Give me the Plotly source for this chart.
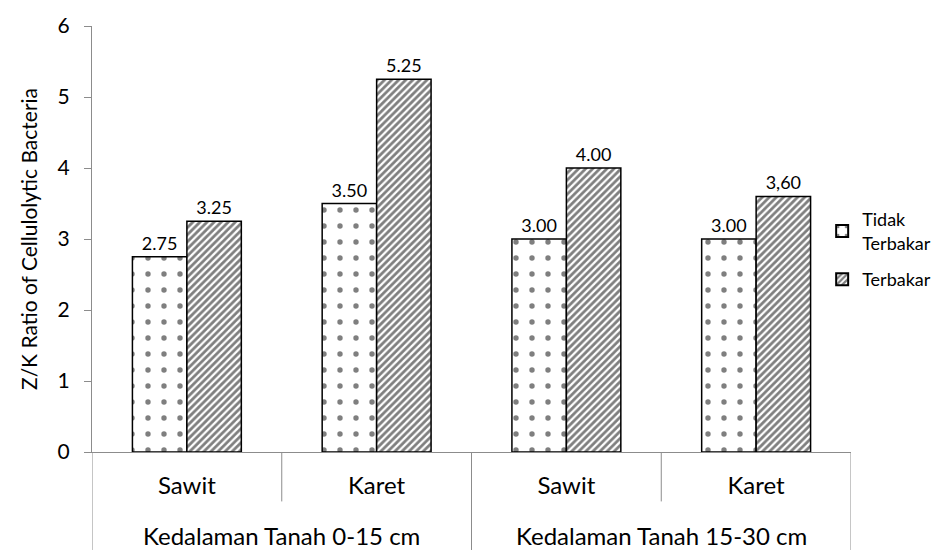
import plotly.graph_objects as go

# Soil depth groups, land use categories and Z/K ratios of cellulolytic bacteria
groups = ["Kedalaman Tanah 0-15 cm", "Kedalaman Tanah 15-30 cm"]
land_use = ["Sawit", "Karet", "Sawit", "Karet"]
tidak_terbakar = [2.75, 3.50, 3.00, 3.00]
terbakar = [3.25, 5.25, 4.00, 3.60]
label_tidak = ["2.75", "3.50", "3.00", "3.00"]
label_terbakar = ["3.25", "5.25", "4.00", "3,60"]
y_ticks = [0, 1, 2, 3, 4, 5, 6]

FONT = "Lato, Open Sans, sans-serif"
x_pos = list(range(len(land_use)))

fig = go.Figure()
fig.add_trace(go.Bar(
    x=x_pos, y=tidak_terbakar, name="Tidak<br>Terbakar", legendgroup="a",
    text=label_tidak, textposition="outside", cliponaxis=False,
    constraintext="none",
    textfont=dict(size=18, color="black", family=FONT),
    marker=dict(color="white", line=dict(color="black", width=1.5),
                pattern=dict(shape=".", fgcolor="black", bgcolor="white",
                             size=16, solidity=0.09)),
))
fig.add_trace(go.Bar(
    x=x_pos, y=terbakar, name="Terbakar", legendgroup="b",
    text=label_terbakar, textposition="outside", cliponaxis=False,
    constraintext="none",
    textfont=dict(size=18, color="black", family=FONT),
    marker=dict(color="white", line=dict(color="black", width=1.5),
                pattern=dict(shape="/", fgcolor="black", bgcolor="white",
                             size=5, solidity=0.55)),
))

# Divider lines of the two-level category axis
shapes = []
for xv, y_end in [(-0.5, -0.23), (1.5, -0.23), (3.5, -0.23), (0.5, -0.116), (2.5, -0.116)]:
    shapes.append(dict(type="line", xref="x", yref="paper", x0=xv, x1=xv,
                       y0=0, y1=y_end, line=dict(color="#8c8c8c", width=1)))

annotations = [
    dict(x=0.5, y=-0.197, xref="x", yref="paper", text=groups[0], showarrow=False,
         font=dict(size=24, color="black", family=FONT), yanchor="middle"),
    dict(x=2.5, y=-0.197, xref="x", yref="paper", text=groups[1], showarrow=False,
         font=dict(size=24, color="black", family=FONT), yanchor="middle"),
]

fig.update_layout(
    width=948, height=551,
    margin=dict(l=92, r=96, t=20, b=99),
    paper_bgcolor="white", plot_bgcolor="white",
    barmode="group", bargap=0.426, bargroupgap=0,
    font=dict(family=FONT, color="black"),
    shapes=shapes, annotations=annotations,
    legend=dict(x=0.962, y=0.475, xanchor="left", yanchor="middle",
                font=dict(size=18, color="black", family=FONT),
                itemsizing="constant", traceorder="grouped", tracegroupgap=10),
    xaxis=dict(range=[-0.5, 3.5], tickvals=x_pos, ticktext=land_use,
               showgrid=False, zeroline=False, showline=True,
               linecolor="#8c8c8c", linewidth=1, ticks="",
               tickfont=dict(size=24, color="black", family=FONT),
               ticklabelstandoff=12),
    yaxis=dict(range=[0, 6], tickvals=y_ticks, showgrid=False, zeroline=False,
               showline=True, linecolor="#8c8c8c", linewidth=1,
               ticks="outside", ticklen=7, tickcolor="#8c8c8c",
               tickfont=dict(size=21, color="black", family=FONT),
               ticklabelstandoff=10,
               title=dict(text="Z/K Ratio of Cellulolytic Bacteria",
                          font=dict(size=21, color="black", family=FONT),
                          standoff=14)),
)

fig.write_html("out.html")
